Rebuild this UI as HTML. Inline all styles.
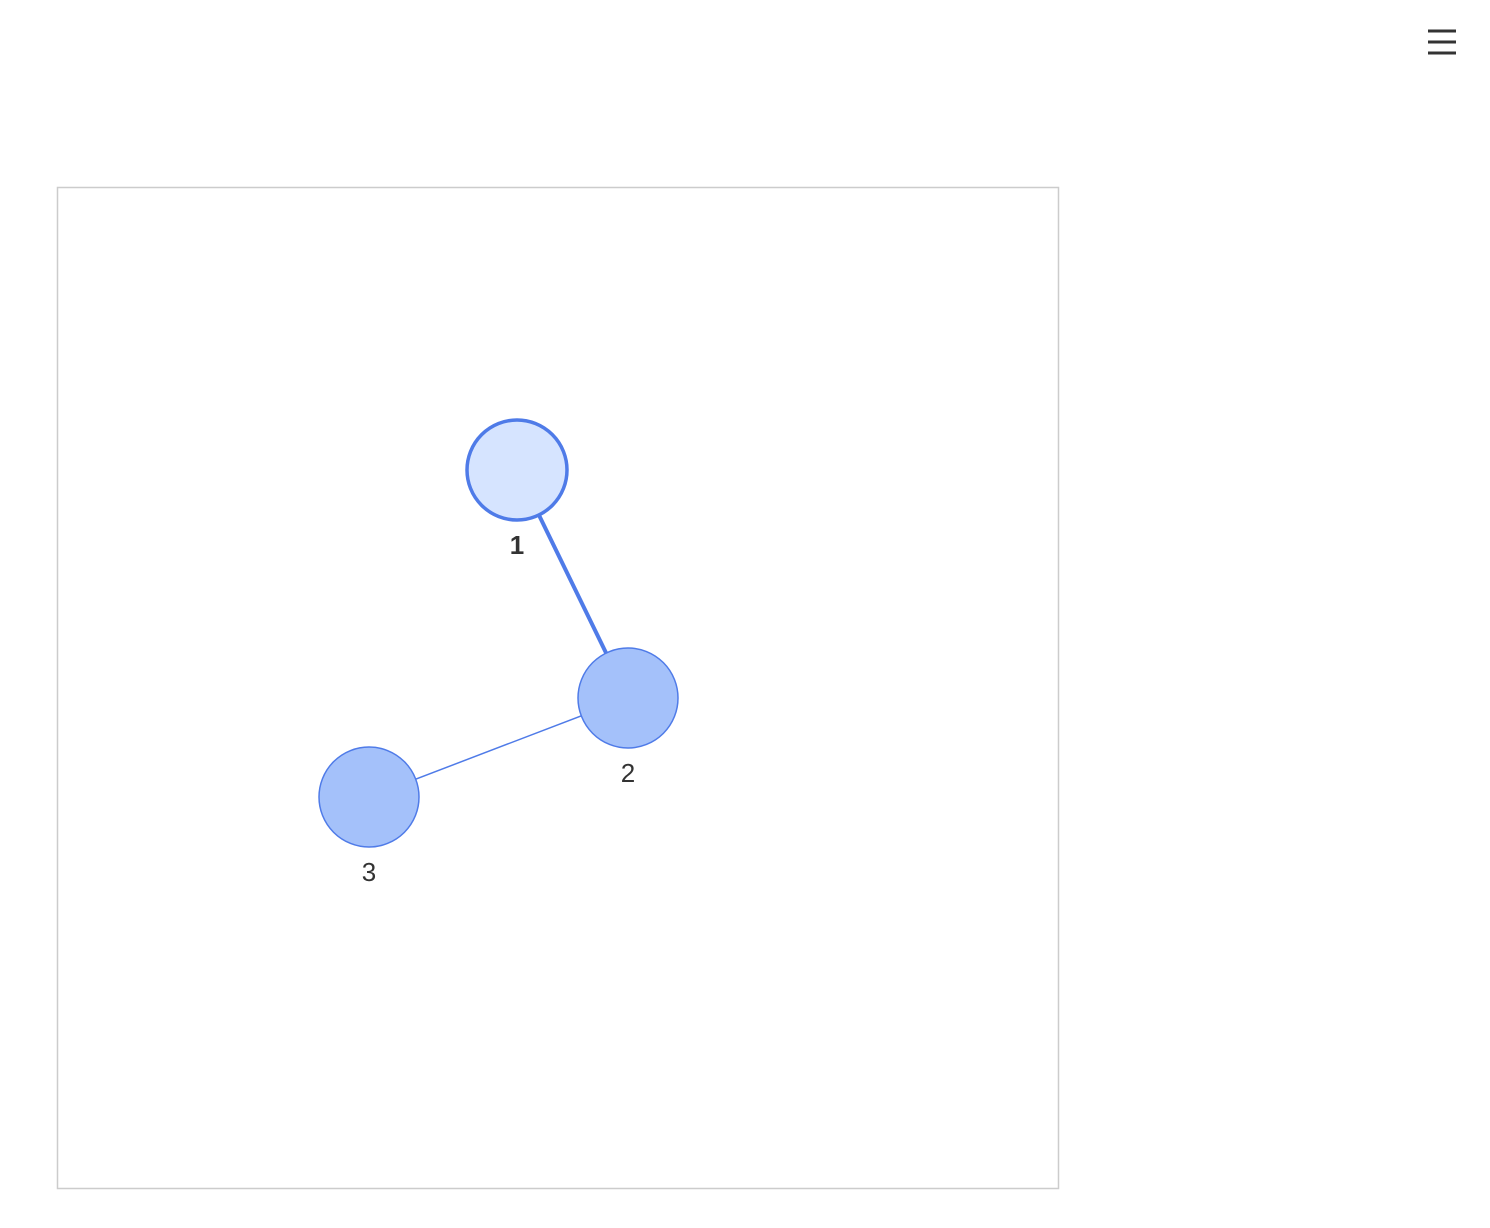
<!DOCTYPE html>
<html><head><meta charset="utf-8"><style>
html,body{margin:0;padding:0;background:#fff;width:1490px;height:1228px;overflow:hidden}
svg{position:absolute;left:0;top:0}
</style></head><body>
<svg id="chart" width="1490" height="1228">
  <rect x="57.5" y="187.5" width="1001" height="1001" fill="#fff" stroke="#cccccc" stroke-width="1.5"/>
  <g stroke="#333" stroke-width="3">
    <line x1="1428" y1="31" x2="1456" y2="31"/>
    <line x1="1428" y1="42" x2="1456" y2="42"/>
    <line x1="1428" y1="53" x2="1456" y2="53"/>
  </g>
  <g id="edges"></g>
  <g id="nodes"></g>
</svg>
<script>
const nodeIds = ["1","2","3"];
const nodeX = [460, 571, 312];
const nodeY = [283, 511, 610];
const nodeSelected = [true, false, false];
const edgeSource = [0, 1];
const edgeTarget = [1, 2];
const edgeWeight = [4, 1.5];

const ox = 57, oy = 187;
const xs = v => ox + v;
const ys = v => oy + v;
const NS = "http://www.w3.org/2000/svg";
const eg = document.getElementById("edges");
const ng = document.getElementById("nodes");
for (let i = 0; i < edgeSource.length; i++) {
  const l = document.createElementNS(NS, "line");
  l.setAttribute("x1", xs(nodeX[edgeSource[i]]));
  l.setAttribute("y1", ys(nodeY[edgeSource[i]]));
  l.setAttribute("x2", xs(nodeX[edgeTarget[i]]));
  l.setAttribute("y2", ys(nodeY[edgeTarget[i]]));
  l.setAttribute("stroke", "#4f7be8");
  l.setAttribute("stroke-width", edgeWeight[i]);
  
  
  eg.appendChild(l);
}
for (let i = 0; i < nodeIds.length; i++) {
  const c = document.createElementNS(NS, "circle");
  c.setAttribute("cx", xs(nodeX[i]));
  c.setAttribute("cy", ys(nodeY[i]));
  c.setAttribute("r", 50);
  c.setAttribute("fill", nodeSelected[i] ? "#d6e4ff" : "#a4c1fa");
  c.setAttribute("stroke", "#4f7be8");
  c.setAttribute("stroke-width", nodeSelected[i] ? 3.5 : 1.5);
  
  
  ng.appendChild(c);
  const t = document.createElementNS(NS, "text");
  t.setAttribute("x", xs(nodeX[i]));
  t.setAttribute("y", ys(nodeY[i]) + 84);
  t.setAttribute("text-anchor", "middle");
  t.setAttribute("font-family", "Liberation Sans, Arial, sans-serif");
  t.setAttribute("font-size", "26");
  t.setAttribute("fill", "#333");
  if (nodeSelected[i]) t.setAttribute("font-weight", "bold");
  t.textContent = nodeIds[i];
  
  
  ng.appendChild(t);
}
</script>
</body></html>
